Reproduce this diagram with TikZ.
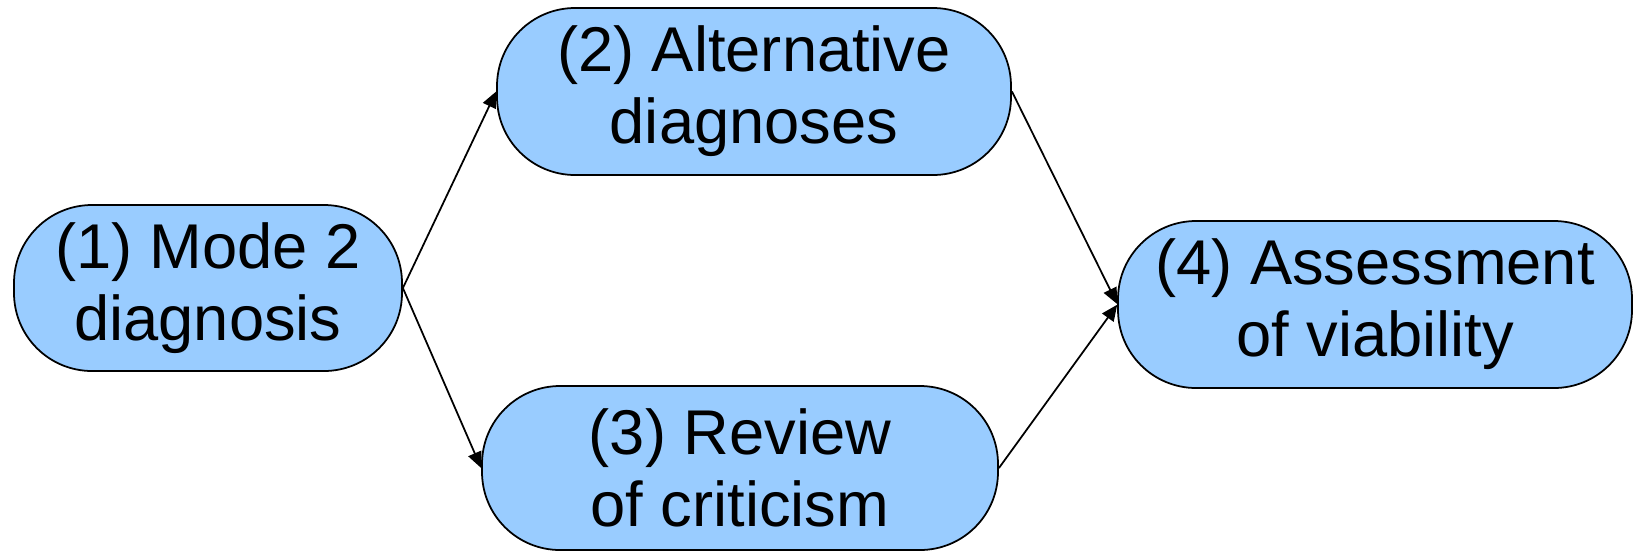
\documentclass[tikz,border=0pt]{standalone}
\usepackage{fontspec}
\setmainfont{Liberation Sans}
\usetikzlibrary{arrows.meta}
\definecolor{stageblue}{RGB}{153,204,255}

\begin{document}
\begin{tikzpicture}[scale=0.1]
            \tikzstyle{every node}+=[inner sep=0pt]
            \tikzstyle{stage}=[draw=black, line width=0.5pt, fill=stageblue, rounded corners=0.78cm, align=center, font=\fontsize{18}{20.5}\selectfont]
            \tikzstyle{flow}=[black, line width=0.5pt, -{Triangle[length=0.16cm,width=0.14cm]}]
            \useasboundingbox (0,0) rectangle (163.5,-55.1);
            \node [stage, minimum width=3.88cm, minimum height=1.66cm] (mode) at (20.8,-28.8) {(1) Mode 2\\diagnosis};
            \node [stage, minimum width=5.14cm, minimum height=1.67cm] (alt) at (75.4,-9.15) {(2) Alternative\\diagnoses};
            \node [stage, minimum width=5.16cm, minimum height=1.64cm] (review) at (74.0,-46.8) {(3) Review\\of criticism};
            \node [stage, minimum width=5.14cm, minimum height=1.67cm] (assess) at (137.5,-30.45) {(4) Assessment\\of viability};
            \draw [flow] (mode.east) -- (alt.west);
            \draw [flow] (mode.east) -- (review.west);
            \draw [flow] (alt.east) -- ([yshift=0.05cm]assess.west);
            \draw [flow] (review.east) -- ([yshift=-0.02cm]assess.west);
\end{tikzpicture}
\end{document}
